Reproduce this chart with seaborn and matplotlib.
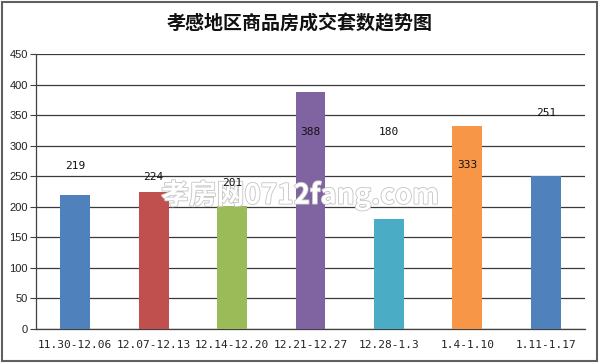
import matplotlib
matplotlib.use("Agg")
import matplotlib.pyplot as plt
import matplotlib.patheffects as pe
from matplotlib.patches import Rectangle
import seaborn as sns
import pandas as pd

# data
categories = ["11.30-12.06", "12.07-12.13", "12.14-12.20", "12.21-12.27",
              "12.28-1.3", "1.4-1.10", "1.11-1.17"]
values = [219, 224, 201, 388, 180, 333, 251]
y_ticks = [0, 50, 100, 150, 200, 250, 300, 350, 400, 450]
title = "孝感地区商品房成交套数趋势图"
watermark = "孝房网0712fang.com"

# style (label vertical shift in data units, as placed in the original)
label_shift = [48, 25, 38, -66, 142, -65, 102]
colors = ["#4F81BD", "#C0504D", "#9BBB59", "#8064A2", "#4BACC6", "#F79646", "#4F81BD"]

sns.set_theme(style="white")
plt.rcParams['font.family'] = ['Noto Sans CJK SC', 'DejaVu Sans']

df = pd.DataFrame({"cat": categories, "val": values})

fig = plt.figure(figsize=(6, 3.63), dpi=100)
ax = fig.add_axes([0.06, 0.094, 0.915, 0.757])

sns.barplot(data=df, x="cat", y="val", hue="cat", palette=colors, width=0.38,
            legend=False, ax=ax, saturation=1, zorder=3, linewidth=0)

ax.set_ylim(0, 450)
ax.set_xlim(-0.5, len(categories) - 0.5)
ax.set_yticks(y_ticks)
ax.set_yticklabels([str(t) for t in y_ticks], fontsize=8, family='Liberation Sans', color='#222222')
ax.set_xticks(range(len(categories)))
ax.set_xticklabels(categories, fontsize=8, family=['DejaVu Sans Mono'], color='#222222')
ax.set_xticks([i - 0.5 for i in range(len(categories) + 1)], minor=True)
ax.tick_params(axis='x', which='major', length=0, pad=8)
ax.tick_params(axis='x', which='minor', length=4, width=0.8, color='#404040', direction='out')
ax.tick_params(axis='y', length=4, width=0.8, color='#404040', direction='out', pad=2, left=True)
ax.set_xlabel("")
ax.set_ylabel("")

for t in y_ticks:
    ax.axhline(t, color='#3a3a3a', lw=0.9, zorder=1)

for s in ['top', 'right']:
    ax.spines[s].set_visible(False)
ax.spines['left'].set_color('#404040')
ax.spines['left'].set_linewidth(0.9)
ax.spines['bottom'].set_color('#404040')
ax.spines['bottom'].set_linewidth(0.9)

for i, v in enumerate(values):
    ax.text(i, v + label_shift[i], str(v), ha='center', va='center',
            fontsize=8, family='DejaVu Sans Mono', color='#111111', zorder=5)

fig.text(0.5, 0.935, title, ha='center', va='center', fontsize=13.7,
         fontweight='bold', color='#111111')

ax.text(0.5, 0.463, watermark, ha='center', va='center', fontsize=20,
        fontweight='bold', color='white', family=['Noto Sans CJK SC', 'DejaVu Serif'],
        transform=fig.transFigure, clip_on=False,
        path_effects=[pe.withStroke(linewidth=1.2, foreground='#c4c4c4')], zorder=4)

fig.patches.append(Rectangle((0.004, 0.006), 0.991, 0.988, transform=fig.transFigure,
                             fill=False, edgecolor='#606060', lw=1.5))

fig.savefig("out.png", dpi=100)
